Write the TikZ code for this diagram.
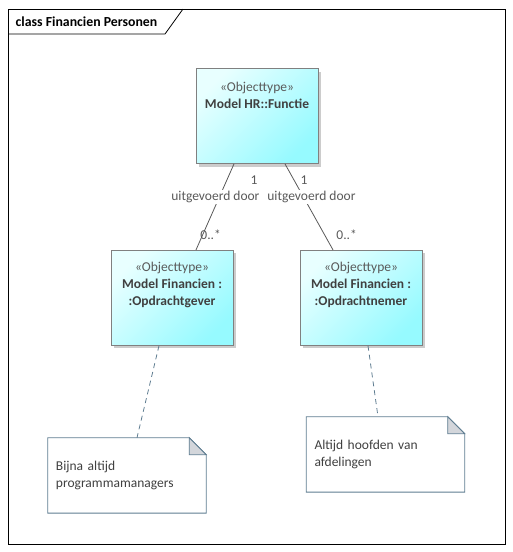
\documentclass[tikz,border=0pt]{standalone}
\usepackage{fontspec}
\setmainfont{Carlito}
\usetikzlibrary{positioning,shadows}

\definecolor{boxlight}{RGB}{232,255,255}
\definecolor{boxdark}{RGB}{150,250,255}
\definecolor{boxline}{RGB}{128,128,128}
\definecolor{noteline}{RGB}{95,125,145}
\definecolor{foldgray}{RGB}{211,214,219}
\definecolor{txtgray}{RGB}{64,64,64}
\definecolor{lblgray}{RGB}{90,90,90}

\tikzset{
  objtype/.style={draw=boxline, top color=boxlight, bottom color=boxdark, shading angle=45,
    minimum width=122pt, minimum height=95pt, inner sep=0pt, line width=0.8pt,
    drop shadow={shadow xshift=3pt, shadow yshift=-3pt, fill=black!20, opacity=1}},
  objtext/.style={anchor=north, align=center, text=txtgray, inner sep=0pt, yshift=-12pt},
  note/.style={text width=142pt, inner xsep=8pt, minimum height=75pt, align=left, text=txtgray},
  noteedge/.style={draw=noteline, fill=white, line width=0.8pt},
  assoc/.style={draw=black!65, line width=0.8pt},
  notelink/.style={draw=noteline, dash pattern=on 5pt off 4pt, line width=0.8pt},
  lbl/.style={text=lblgray, inner sep=1pt}
}

\begin{document}
\begin{tikzpicture}[x=1pt, y=-1pt, font=\fontsize{13.5pt}{17pt}\selectfont]
\useasboundingbox (0,0) rectangle (512,552);

% frame
\draw[line width=0.8pt] (8,9) rectangle (505,544);
\draw[line width=0.8pt] (8,34) -- (165,34) -- (183,9);
\node[anchor=west, inner sep=0pt, font=\fontsize{13.8pt}{17pt}\selectfont\bfseries] (title) at (15.5,21.5) {class Financien Personen};

% object types
\node[objtype, label={[objtext, yshift=-2pt]north:{\color{lblgray}«Objecttype»\\\textbf{Model HR::Functie}}}] (F) at (257,116) {};

\node[objtype, label={[objtext]north:{\color{lblgray}«Objecttype»\\\textbf{Model Financien :}\\\textbf{:Opdrachtgever}}}] (A) [below=86pt of F, xshift=-85pt] {};

\node[objtype, label={[objtext]north:{\color{lblgray}«Objecttype»\\\textbf{Model Financien :}\\\textbf{:Opdrachtnemer}}}] (B) [below=86pt of F, xshift=104pt] {};

% associations
\draw[assoc] ([xshift=-23pt]F.south) -- ([xshift=24pt]A.north)
  node[lbl, pos=0.186, xshift=27pt] {1}
  node[lbl, pos=0.384, xshift=-4pt, fill=white] {uitgevoerd door}
  node[lbl, pos=0.826, xshift=8pt] {0..*};
\draw[assoc] ([xshift=28pt]F.south) -- ([xshift=-28pt]B.north)
  node[lbl, pos=0.186, xshift=10pt] {1}
  node[lbl, pos=0.384, xshift=8pt, fill=white] {uitgevoerd door}
  node[lbl, pos=0.826, xshift=22pt] {0..*};

% notes
\node[note] (N1) [below=92pt of A, xshift=-45pt] {};
\node[note] (N2) [below=71pt of B, xshift=24.5pt] {};
\foreach \n in {N1,N2} {
  \draw[noteedge] (\n.north west) -- ([xshift=-17pt]\n.north east) -- ([yshift=-17pt]\n.north east)
    -- (\n.south east) -- (\n.south west) -- cycle;
  \draw[noteedge, fill=foldgray] ([xshift=-17pt]\n.north east) -- ([yshift=-17pt]\n.north east)
    -- ([xshift=-17pt, yshift=-17pt]\n.north east) -- cycle;
}
\node[note] at (N1) {Bijna altijd\\programmamanagers};
\node[note] at (N2) {Altijd hoofden van\\afdelingen};

\draw[notelink] ([xshift=-13pt]A.south) -- ([xshift=10pt]N1.north);
\draw[notelink] ([xshift=7pt]B.south) -- ([xshift=-7.5pt]N2.north);

\end{tikzpicture}
\end{document}
